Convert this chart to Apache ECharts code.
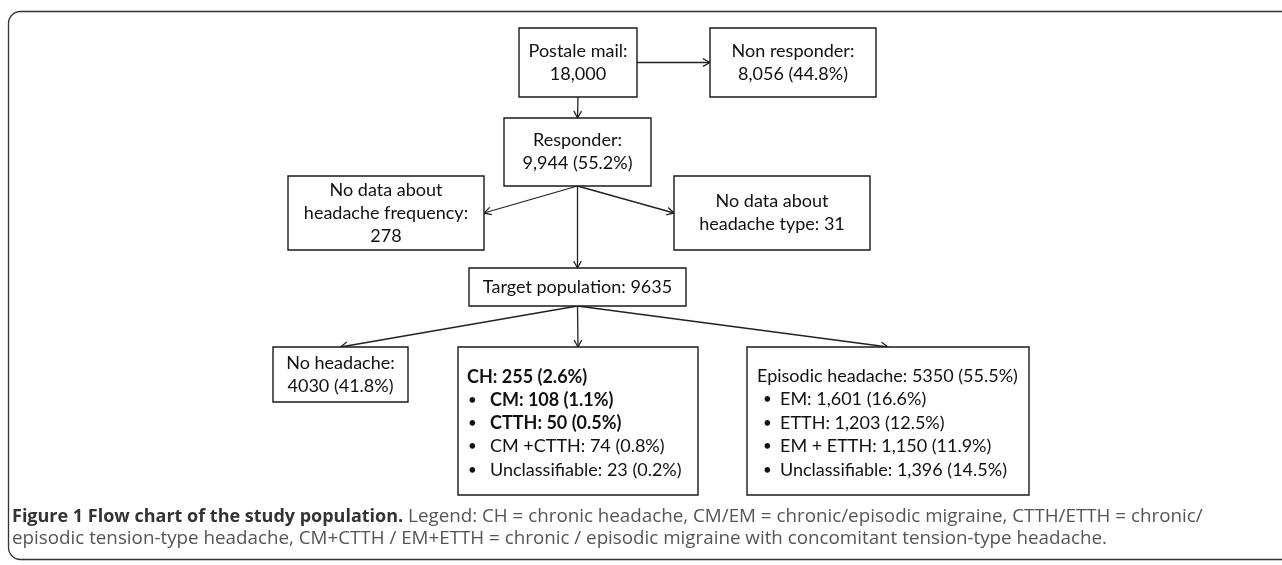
<!DOCTYPE html>
<html>
<head>
<meta charset="utf-8">
<script src="https://cdn.jsdelivr.net/npm/echarts@6/dist/echarts.min.js"></script>
<style>
  html, body { margin: 0; padding: 0; background: #fff; }
  #main { width: 1282px; height: 565px; }
</style>
</head>
<body>
<div id="main"></div>
<script>
// box texts
const boxIds = ['postal', 'nonResp', 'resp', 'noFreq', 'noType', 'target', 'noHead', 'chronic', 'episodic'];
const boxLines = {
  postal: ['Postale mail:', '18,000'],
  nonResp: ['Non responder:', '8,056 (44.8%)'],
  resp: ['Responder:', '9,944 (55.2%)'],
  noFreq: ['No data about', 'headache frequency:', '278'],
  noType: ['No data about', 'headache type: 31'],
  target: ['Target population: 9635'],
  noHead: ['No headache:', '4030 (41.8%)']
};
// list boxes
const chronicTitle = 'CH: 255 (2.6%)';
const chronicItems = ['CM: 108 (1.1%)', 'CTTH: 50 (0.5%)', 'CM +CTTH: 74 (0.8%)', 'Unclassifiable: 23 (0.2%)'];
const chronicBold = [true, true, false, false];
const episodicTitle = 'Episodic headache: 5350 (55.5%)';
const episodicItems = ['EM: 1,601 (16.6%)', 'ETTH: 1,203 (12.5%)', 'EM + ETTH: 1,150 (11.9%)', 'Unclassifiable: 1,396 (14.5%)'];
const episodicBold = [false, false, false, false];
// arrows: from, to, side of source, side of target
const flows = [
  ['postal', 'nonResp', 'r', 'l'],
  ['postal', 'resp', 'b', 't'],
  ['resp', 'noFreq', 'b', 'r'],
  ['resp', 'noType', 'b', 'l'],
  ['resp', 'target', 'b', 't'],
  ['target', 'noHead', 'b', 't'],
  ['target', 'chronic', 'b', 't'],
  ['target', 'episodic', 'b', 't']
];
const captionTitle = 'Figure 1 Flow chart of the study population.';
const captionLines = [
  ' Legend: CH = chronic headache, CM/EM = chronic/episodic migraine, CTTH/ETTH = chronic/',
  'episodic tension-type headache, CM+CTTH / EM+ETTH = chronic / episodic migraine with concomitant tension-type headache.'
];

// layout (page pixels): x0, y0, x1, y1
const boxRect = {
  postal: [519, 28, 637, 97],
  nonResp: [710, 28, 876, 97],
  resp: [504, 118, 651, 186],
  noFreq: [288, 176, 484, 250],
  noType: [674, 176, 870, 250],
  target: [469, 268, 686, 306],
  noHead: [273, 347, 408, 402],
  chronic: [458, 347, 698, 495],
  episodic: [747, 347, 1029, 495]
};
// list box text: title x, bullet x, item x, first line y, step
const listLayout = {
  chronic: [467, 468, 490, 377, 23.2],
  episodic: [757, 763, 780, 376, 23.5]
};

const FONT = 'Lato, "Noto Sans", sans-serif';
const INK = '#1a1a1a';

function anchor(id, side) {
  const r = boxRect[id];
  const cx = (r[0] + r[2]) / 2, cy = (r[1] + r[3]) / 2;
  if (side === 'l') return [r[0], cy];
  if (side === 'r') return [r[2], cy];
  if (side === 't') return [cx, r[1]];
  return [cx, r[3]];
}

function renderBox(params, api) {
  const id = boxIds[params.dataIndex];
  const r = boxRect[id];
  const p0 = api.coord([r[0], r[1]]);
  const p1 = api.coord([r[2], r[3]]);
  const children = [{
    type: 'rect',
    shape: { x: p0[0], y: p0[1], width: p1[0] - p0[0], height: p1[1] - p0[1] },
    style: { fill: '#fff', stroke: INK, lineWidth: 1.4 }
  }];
  if (boxLines[id]) {
    children.push({
      type: 'text',
      style: {
        text: boxLines[id].join('\n'),
        x: (p0[0] + p1[0]) / 2, y: (p0[1] + p1[1]) / 2,
        align: 'center', verticalAlign: 'middle',
        fontFamily: FONT, fontSize: 18, lineHeight: 23, fill: '#111'
      }
    });
  } else {
    const L = listLayout[id];
    const title = id === 'chronic' ? chronicTitle : episodicTitle;
    const items = id === 'chronic' ? chronicItems : episodicItems;
    const bold = id === 'chronic' ? chronicBold : episodicBold;
    const tp = api.coord([L[0], L[3]]);
    children.push({
      type: 'text',
      style: {
        text: title, x: tp[0], y: tp[1], verticalAlign: 'middle',
        fontFamily: FONT, fontSize: 18, fontWeight: id === 'chronic' ? 'bold' : 'normal', fill: '#111'
      }
    });
    items.forEach(function (t, i) {
      const bp = api.coord([L[1], L[3] + L[4] * (i + 1)]);
      const ip = api.coord([L[2], L[3] + L[4] * (i + 1)]);
      children.push({
        type: 'text',
        style: { text: '•', x: bp[0], y: bp[1], verticalAlign: 'middle', fontFamily: FONT, fontSize: 15, fill: '#111' }
      });
      children.push({
        type: 'text',
        style: {
          text: t, x: ip[0], y: ip[1], verticalAlign: 'middle',
          fontFamily: FONT, fontSize: 18, fontWeight: bold[i] ? 'bold' : 'normal', fill: '#111'
        }
      });
    });
  }
  return { type: 'group', children: children };
}

function renderFlow(params, api) {
  const f = flows[params.dataIndex];
  const a = api.coord(anchor(f[0], f[2]));
  const b = api.coord(anchor(f[1], f[3]));
  const ang = Math.atan2(b[1] - a[1], b[0] - a[0]);
  const len = 8, spread = 0.5;
  const h1 = [b[0] - len * Math.cos(ang - spread), b[1] - len * Math.sin(ang - spread)];
  const h2 = [b[0] - len * Math.cos(ang + spread), b[1] - len * Math.sin(ang + spread)];
  return {
    type: 'group',
    children: [
      { type: 'line', shape: { x1: a[0], y1: a[1], x2: b[0], y2: b[1] }, style: { stroke: '#222', lineWidth: 1.3 } },
      { type: 'polyline', shape: { points: [h1, b, h2] }, style: { stroke: '#222', lineWidth: 1.3, fill: null } }
    ]
  };
}

const chart = echarts.init(document.getElementById('main'));
chart.setOption({
  animation: false,
  grid: { left: 0, right: 0, top: 0, bottom: 0 },
  xAxis: { type: 'value', min: 0, max: 1282, show: false },
  yAxis: { type: 'value', min: 0, max: 565, inverse: true, show: false },
  graphic: [{
    type: 'rect',
    shape: { x: 8.5, y: 11.5, width: 1300, height: 548, r: [12, 0, 0, 12] },
    style: { fill: 'none', stroke: '#333', lineWidth: 1.3 },
    z: -1
  }],
  title: {
    left: 12, top: 506, padding: 0,
    text: '{b|' + captionTitle + '}{n|' + captionLines[0] + '}\n{n|' + captionLines[1] + '}',
    textStyle: {
      rich: {
        b: { fontFamily: '"Open Sans", sans-serif', fontSize: 18, fontWeight: 'bold', color: '#333', lineHeight: 22 },
        n: { fontFamily: '"Open Sans", sans-serif', fontSize: 18.8, fontWeight: 'normal', color: '#555', lineHeight: 22 }
      }
    }
  },
  series: [
    {
      type: 'custom',
      renderItem: renderFlow,
      data: flows.map(function (f) { return anchor(f[1], f[3]); }),
      z: 1
    },
    {
      type: 'custom',
      renderItem: renderBox,
      data: boxIds.map(function (id) { return anchor(id, 't'); }),
      z: 2
    }
  ]
});
</script>
</body>
</html>
